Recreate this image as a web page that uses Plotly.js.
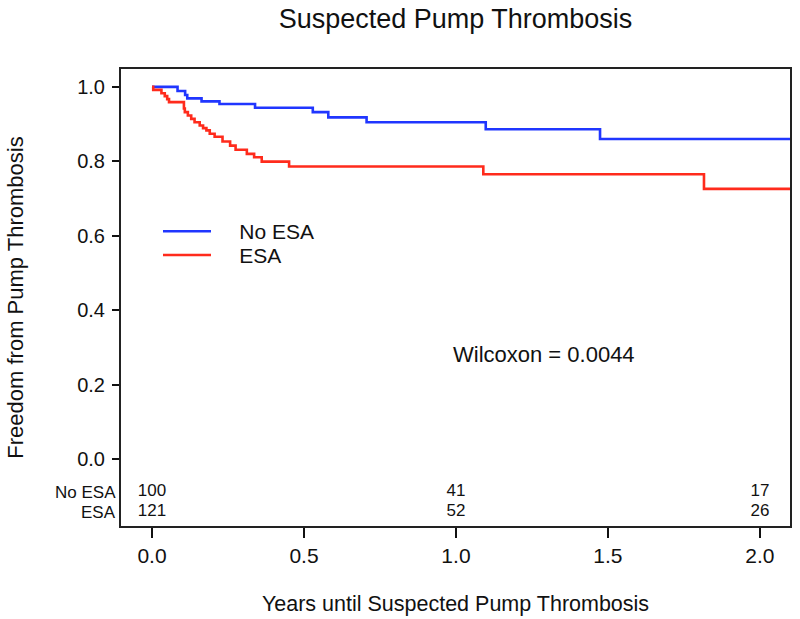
<!DOCTYPE html>
<html>
<head>
<meta charset="utf-8">
<script src="https://cdn.plot.ly/plotly-3.0.1.min.js"></script>
<style>
  html, body { margin: 0; padding: 0; background: #ffffff; }
  #chart { width: 800px; height: 619px; }
</style>
</head>
<body>
<div id="chart"></div>
<script>
// Kaplan-Meier step data (years, survival)
var noEsaTime = [0, 0.084, 0.109, 0.116, 0.163, 0.222, 0.339, 0.529, 0.580, 0.706, 1.098, 1.474, 2.10];
var noEsaSurv = [1.0, 0.989, 0.978, 0.969, 0.961, 0.954, 0.944, 0.932, 0.918, 0.905, 0.886, 0.860, 0.860];

var esaTime = [0, 0.004, 0.031, 0.042, 0.050, 0.056, 0.105, 0.108, 0.118, 0.129, 0.140, 0.157, 0.168, 0.179, 0.190, 0.206, 0.232, 0.257, 0.275, 0.312, 0.336, 0.361, 0.451, 1.090, 1.816, 2.10];
var esaSurv = [1.0, 0.992, 0.983, 0.975, 0.967, 0.959, 0.942, 0.932, 0.923, 0.914, 0.905, 0.896, 0.889, 0.883, 0.874, 0.866, 0.853, 0.842, 0.831, 0.820, 0.811, 0.799, 0.786, 0.765, 0.726, 0.726];

// Number at risk table
var riskTimes = [0, 1, 2];
var noEsaAtRisk = [100, 41, 17];
var esaAtRisk = [121, 52, 26];
var riskRowY = [-0.089, -0.143];
var groupNames = ['No ESA', 'ESA'];

var xTicks = [0, 0.5, 1.0, 1.5, 2.0];
var xTickText = ['0.0', '0.5', '1.0', '1.5', '2.0'];
var yTicks = [0, 0.2, 0.4, 0.6, 0.8, 1.0];
var yTickText = ['0.0', '0.2', '0.4', '0.6', '0.8', '1.0'];

var statText = 'Wilcoxon = 0.0044';
var statPos = [1.29, 0.282];

var FONT = 'Liberation Sans, Arial, Helvetica, sans-serif';
var BLUE = '#2036ff';
var RED = '#ff2b1c';
var PAD = '\u00a0\u00a0\u00a0\u00a0';

var traces = [
  {
    x: noEsaTime, y: noEsaSurv, type: 'scatter', mode: 'lines',
    line: {shape: 'hv', color: BLUE, width: 2.6},
    name: PAD + groupNames[0], legend: 'legend', hoverinfo: 'skip'
  },
  {
    x: esaTime, y: esaSurv, type: 'scatter', mode: 'lines',
    line: {shape: 'hv', color: RED, width: 2.6},
    name: PAD + groupNames[1], legend: 'legend2', hoverinfo: 'skip'
  },
  {
    x: riskTimes, y: riskTimes.map(function(){return riskRowY[0];}),
    text: noEsaAtRisk.map(String), type: 'scatter', mode: 'text',
    textposition: 'middle center', textfont: {family: FONT, size: 17, color: '#111'},
    showlegend: false, hoverinfo: 'skip', cliponaxis: false
  },
  {
    x: riskTimes, y: riskTimes.map(function(){return riskRowY[1];}),
    text: esaAtRisk.map(String), type: 'scatter', mode: 'text',
    textposition: 'middle center', textfont: {family: FONT, size: 17, color: '#111'},
    showlegend: false, hoverinfo: 'skip', cliponaxis: false
  }
];

var annotations = [
  {x: statPos[0], y: statPos[1], xref: 'x', yref: 'y', text: statText, showarrow: false,
   font: {family: FONT, size: 22, color: '#111'}, xanchor: 'center', yanchor: 'middle'},
  {x: -0.005, y: riskRowY[0], xref: 'paper', yref: 'y', text: groupNames[0], showarrow: false,
   font: {family: FONT, size: 17, color: '#111'}, xanchor: 'right', yanchor: 'middle'},
  {x: -0.005, y: riskRowY[1], xref: 'paper', yref: 'y', text: groupNames[1], showarrow: false,
   font: {family: FONT, size: 17, color: '#111'}, xanchor: 'right', yanchor: 'middle'}
];

var legendCommon = {
  bgcolor: 'rgba(0,0,0,0)', borderwidth: 0,
  font: {family: FONT, size: 21, color: '#111'},
  itemwidth: 48, xanchor: 'left', yanchor: 'top'
};

var layout = {
  width: 800, height: 619,
  paper_bgcolor: '#ffffff', plot_bgcolor: '#ffffff',
  margin: {l: 121, r: 10, t: 69, b: 93, pad: 0},
  font: {family: FONT, color: '#111'},
  title: {
    text: 'Suspected Pump Thrombosis',
    font: {family: FONT, size: 27, color: '#111'},
    x: 0.5, xref: 'paper', xanchor: 'center',
    y: 1 - 19/619, yref: 'container', yanchor: 'middle'
  },
  xaxis: {
    range: [-0.102, 2.099],
    tickvals: xTicks, ticktext: xTickText,
    ticks: 'outside', ticklen: 10, tickwidth: 2, tickcolor: '#111',
    tickfont: {family: FONT, size: 21, color: '#111'},
    showline: true, linecolor: '#222', linewidth: 2, mirror: true,
    showgrid: false, zeroline: false,
    title: {text: 'Years until Suspected Pump Thrombosis', font: {family: FONT, size: 21.5, color: '#111'}, standoff: 30}
  },
  yaxis: {
    range: [-0.180, 1.048],
    tickvals: yTicks, ticktext: yTickText,
    ticks: 'outside', ticklen: 7, tickwidth: 2, tickcolor: '#111',
    tickfont: {family: FONT, size: 20, color: '#111'},
    ticklabelstandoff: 3,
    showline: true, linecolor: '#222', linewidth: 2, mirror: true,
    showgrid: false, zeroline: false,
    title: {text: 'Freedom from Pump Thrombosis', font: {family: FONT, size: 22, color: '#111'}, standoff: 47}
  },
  legend: Object.assign({x: 0.0553, y: 0.689}, legendCommon),
  legend2: Object.assign({x: 0.0553, y: 0.637}, legendCommon),
  annotations: annotations,
  showlegend: true
};

Plotly.newPlot('chart', traces, layout, {displayModeBar: false, staticPlot: true});
</script>
</body>
</html>
